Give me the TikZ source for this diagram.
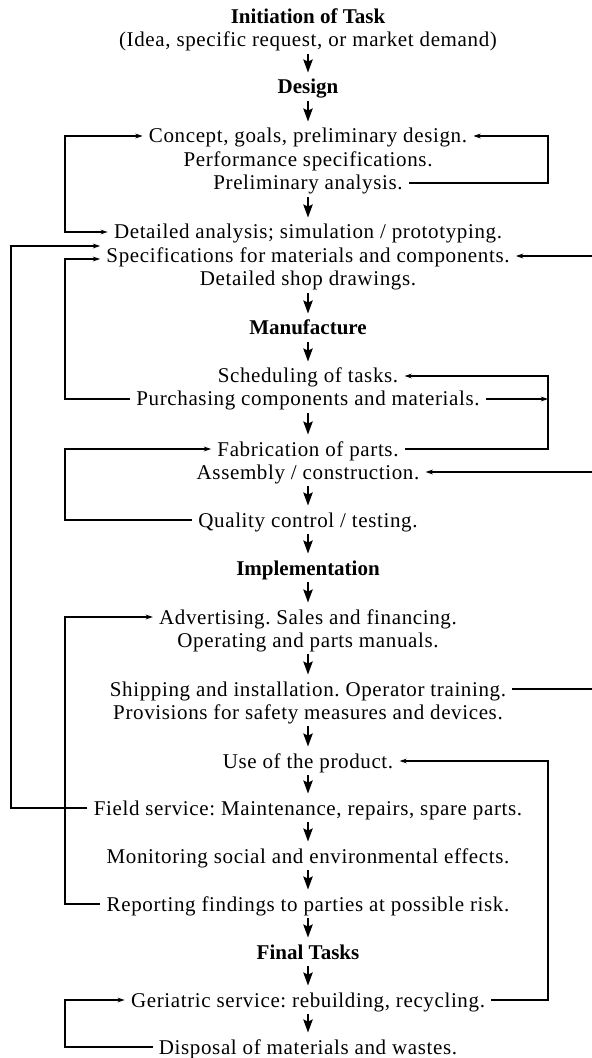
\documentclass[tikz,border=0pt]{standalone}
\usepackage{fontspec}
\setmainfont{Liberation Serif}
\newfontfamily\bodyfont{Liberation Serif}[LetterSpace=3]
\usetikzlibrary{arrows.meta}

\begin{document}
\frenchspacing
\begin{tikzpicture}[
    x=0.5pt, y=-0.5pt,
    line/.style={font=\bodyfont\fontsize{10.5}{12}\selectfont, inner xsep=3pt,
      inner ysep=3.5pt, text height=7pt, text depth=0pt},
    head/.style={line, font=\fontsize{10.5}{12}\selectfont\bfseries},
    down/.style={-{Stealth[length=6.5pt, width=4.6pt, inset=1pt]}, line width=1.2pt},
    back/.style={-{Stealth[length=3.6pt, width=2.4pt]}, line width=0.7pt},
    plain/.style={line width=0.7pt}]

  \useasboundingbox (0,0) rectangle (592,1058);

  % Columns of the feedback lines
  \coordinate (lx) at (65,0);
  \coordinate (llx) at (11,0);
  \coordinate (rx) at (548,0);
  \coordinate (redge) at (592,0);

  % Stage headings
  \foreach \name/\y/\txt in {init/17/{Initiation of Task}, design/87/Design,
    manuf/328/Manufacture, impl/568/Implementation, final/952/{Final Tasks}}{%
    \node [head] (\name) at (308,\y) {\txt};
  }

  % Tasks
  \foreach \name/\y/\txt in {
    idea/40/{(Idea, specific request, or market demand)},
    concept/136/{Concept, goals, preliminary design.},
    perf/160/{Performance specifications.},
    prelim/183/{Preliminary analysis.},
    detail/232/{Detailed analysis; simulation / prototyping.},
    specs/256/{Specifications for materials and components.},
    shop/279/{Detailed shop drawings.},
    sched/376/{Scheduling of tasks.},
    purch/399/{Purchasing components and materials.},
    fabr/449/{Fabrication of parts.},
    assem/472/{Assembly / construction.},
    quality/520/{Quality control / testing.},
    advert/617/{Advertising. Sales and financing.},
    manual/640/{Operating and parts manuals.},
    ship/689/{Shipping and installation. Operator training.},
    safety/712/{Provisions for safety measures and devices.},
    use/761/{Use of the product.},
    field/808/{Field service: Maintenance, repairs, spare parts.},
    monitor/856/{Monitoring social and environmental effects.},
    report/904/{Reporting findings to parties at possible risk.},
    geriat/1000/{Geriatric service: rebuilding, recycling.},
    dispose/1047/{Disposal of materials and wastes.}}{%
    \node [line] (\name) at (308,\y) {\txt};
  }

  % Main flow
  \foreach \a/\b in {idea/design, design/concept, prelim/detail, shop/manuf,
    manuf/sched, purch/fabr, assem/quality, quality/impl, impl/advert,
    manual/ship, safety/use, use/field, field/monitor, monitor/report,
    report/final, final/geriat, geriat/dispose}{%
    \draw [down] (\a) -- (\b);
  }

  % Feedback on the right
  \draw [back] (prelim.east) -- (prelim.east -| rx) |- (concept.east);
  \draw [back] (fabr.east) -- (fabr.east -| rx) |- (sched.east);
  \draw [back] (purch.east) -- (purch.east -| rx);
  \draw [back] (geriat.east) -- (geriat.east -| rx) |- (use.east);

  % Lines running off the right edge
  \draw [back] (specs.east -| redge) -- (specs.east);
  \draw [back] (assem.east -| redge) -- (assem.east);
  \draw [plain] (ship.east) -- (ship.east -| redge);

  % Feedback on the left
  \draw [{Stealth[length=3.6pt, width=2.4pt]}-{Stealth[length=3.6pt, width=2.4pt]}, line width=0.7pt]
    (concept.west) -- (concept.west -| lx) |- (detail.west);
  \draw [back] (field.west) -- (field.west -| llx) |- ([yshift=5pt]specs.west);
  \draw [back] (purch.west) -- (purch.west -| lx) |- ([yshift=-1.5pt]specs.west);
  \draw [back] (quality.west) -- (quality.west -| lx) |- (fabr.west);
  \draw [back] (report.west) -- (report.west -| lx) |- (advert.west);
  \draw [back] (dispose.west) -- (dispose.west -| lx) |- (geriat.west);

\end{tikzpicture}
\end{document}
